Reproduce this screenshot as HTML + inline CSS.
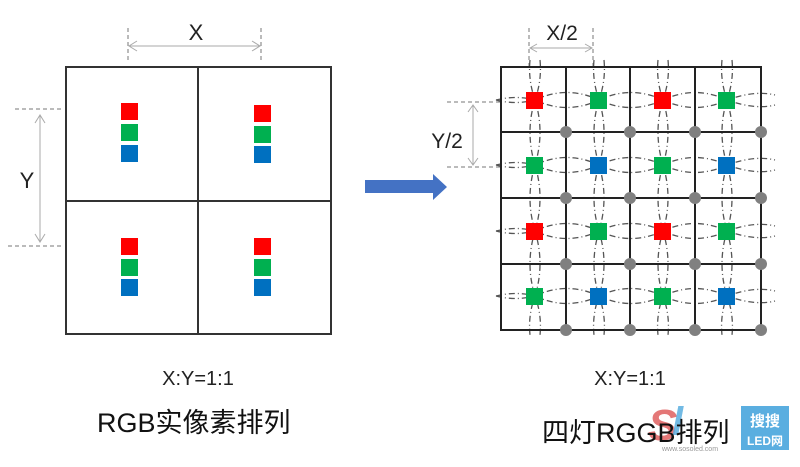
<!DOCTYPE html>
<html><head><meta charset="utf-8"><style>
html,body{margin:0;padding:0;background:#fff;}
svg{display:block;font-family:"Liberation Sans","Noto Sans CJK SC",sans-serif;}
</style></head><body>
<svg width="800" height="467" viewBox="0 0 800 467" xmlns="http://www.w3.org/2000/svg">
<rect x="66" y="67" width="265" height="267" fill="none" stroke="#333" stroke-width="2"/>
<line x1="198" y1="67" x2="198" y2="334" stroke="#333" stroke-width="2"/>
<line x1="66" y1="201" x2="331" y2="201" stroke="#333" stroke-width="2"/>
<g>
<rect x="121" y="103" width="17" height="17" fill="#f00"/>
<rect x="121" y="124" width="17" height="17" fill="#00b050"/>
<rect x="121" y="145" width="17" height="17" fill="#0070c0"/>
<rect x="254" y="105" width="17" height="17" fill="#f00"/>
<rect x="254" y="126" width="17" height="17" fill="#00b050"/>
<rect x="254" y="146" width="17" height="17" fill="#0070c0"/>
<rect x="121" y="238" width="17" height="17" fill="#f00"/>
<rect x="121" y="259" width="17" height="17" fill="#00b050"/>
<rect x="121" y="279" width="17" height="17" fill="#0070c0"/>
<rect x="254" y="238" width="17" height="17" fill="#f00"/>
<rect x="254" y="259" width="17" height="17" fill="#00b050"/>
<rect x="254" y="279" width="17" height="17" fill="#0070c0"/>
</g>
<line x1="128" y1="28" x2="128" y2="63" stroke="#777" stroke-dasharray="4,3"/>
<line x1="261" y1="28" x2="261" y2="63" stroke="#777" stroke-dasharray="4,3"/>
<line x1="129" y1="46" x2="260" y2="46" stroke="#aaa"/>
<polyline points="137,41 129,46 137,51" fill="none" stroke="#aaa"/>
<polyline points="252,41 260,46 252,51" fill="none" stroke="#aaa"/>
<text x="196" y="40" font-size="22" text-anchor="middle" fill="#222">X</text>
<line x1="15" y1="109" x2="63" y2="109" stroke="#777" stroke-dasharray="4,3"/>
<line x1="8" y1="246" x2="63" y2="246" stroke="#777" stroke-dasharray="4,3"/>
<line x1="40" y1="115" x2="40" y2="242" stroke="#aaa"/>
<polyline points="35,123 40,115 45,123" fill="none" stroke="#aaa"/>
<polyline points="35,234 40,242 45,234" fill="none" stroke="#aaa"/>
<text x="27" y="188" font-size="22" text-anchor="middle" fill="#222">Y</text>
<text x="198" y="385" font-size="20" text-anchor="middle" fill="#222">X:Y=1:1</text>
<text x="97" y="432" font-size="27" fill="#111">RGB实像素排列</text>
<polygon points="365,180 433,180 433,174 447,187 433,200 433,193 365,193" fill="#4472c4"/>
<line x1="447" y1="102" x2="500" y2="102" stroke="#777" stroke-dasharray="4,3"/>
<line x1="447" y1="167" x2="500" y2="167" stroke="#777" stroke-dasharray="4,3"/>
<line x1="473" y1="105" x2="473" y2="165" stroke="#aaa"/>
<polyline points="468,112 473,105 478,112" fill="none" stroke="#aaa"/>
<polyline points="468,158 473,165 478,158" fill="none" stroke="#aaa"/>
<text x="447" y="148" font-size="21" text-anchor="middle" fill="#222">Y/2</text>
<line x1="529" y1="28" x2="529" y2="66" stroke="#777" stroke-dasharray="4,3"/>
<line x1="593" y1="28" x2="593" y2="66" stroke="#777" stroke-dasharray="4,3"/>
<line x1="530" y1="48" x2="592" y2="48" stroke="#aaa"/>
<polyline points="537,44 530,48 537,52" fill="none" stroke="#aaa"/>
<polyline points="585,44 592,48 585,52" fill="none" stroke="#aaa"/>
<text x="562" y="40" font-size="21" text-anchor="middle" fill="#222">X/2</text>
<g fill="none" stroke="#555" stroke-width="1.3" stroke-dasharray="6,3,1,3">
<path d="M496,100 Q516,95 535,100 Q567,85 599,100 Q631,85 663,100 Q695,85 727,100 Q755,90 775,95"/>
<path d="M496,100 Q516,105 535,100 Q567,115 599,100 Q631,115 663,100 Q695,115 727,100 Q755,110 775,105"/>
<path d="M496,165 Q516,160 535,165 Q567,150 599,165 Q631,150 663,165 Q695,150 727,165 Q755,155 775,160"/>
<path d="M496,165 Q516,170 535,165 Q567,180 599,165 Q631,180 663,165 Q695,180 727,165 Q755,175 775,170"/>
<path d="M496,231 Q516,226 535,231 Q567,216 599,231 Q631,216 663,231 Q695,216 727,231 Q755,221 775,226"/>
<path d="M496,231 Q516,236 535,231 Q567,246 599,231 Q631,246 663,231 Q695,246 727,231 Q755,241 775,236"/>
<path d="M496,296 Q516,291 535,296 Q567,281 599,296 Q631,281 663,296 Q695,281 727,296 Q755,286 775,291"/>
<path d="M496,296 Q516,301 535,296 Q567,311 599,296 Q631,311 663,296 Q695,311 727,296 Q755,306 775,301"/>
<path d="M530,60 Q528,80 535,100 Q525,132 535,165 Q525,198 535,231 Q525,264 535,296 Q528,315 530,335"/>
<path d="M540,60 Q542,80 535,100 Q545,132 535,165 Q545,198 535,231 Q545,264 535,296 Q542,315 540,335"/>
<path d="M594,60 Q592,80 599,100 Q589,132 599,165 Q589,198 599,231 Q589,264 599,296 Q592,315 594,335"/>
<path d="M604,60 Q606,80 599,100 Q609,132 599,165 Q609,198 599,231 Q609,264 599,296 Q606,315 604,335"/>
<path d="M658,60 Q656,80 663,100 Q653,132 663,165 Q653,198 663,231 Q653,264 663,296 Q656,315 658,335"/>
<path d="M668,60 Q670,80 663,100 Q673,132 663,165 Q673,198 663,231 Q673,264 663,296 Q670,315 668,335"/>
<path d="M722,60 Q720,80 727,100 Q717,132 727,165 Q717,198 727,231 Q717,264 727,296 Q720,315 722,335"/>
<path d="M732,60 Q734,80 727,100 Q737,132 727,165 Q737,198 727,231 Q737,264 727,296 Q734,315 732,335"/>
</g>
<g stroke="#222" stroke-width="2" fill="none">
<rect x="501" y="67" width="260" height="263"/>
<line x1="566" y1="67" x2="566" y2="330"/>
<line x1="630" y1="67" x2="630" y2="330"/>
<line x1="695" y1="67" x2="695" y2="330"/>
<line x1="501" y1="132" x2="761" y2="132"/>
<line x1="501" y1="198" x2="761" y2="198"/>
<line x1="501" y1="264" x2="761" y2="264"/>
</g>
<g>
<rect x="526" y="92" width="17" height="17" fill="#f00"/>
<rect x="590" y="92" width="17" height="17" fill="#00b050"/>
<rect x="654" y="92" width="17" height="17" fill="#f00"/>
<rect x="718" y="92" width="17" height="17" fill="#00b050"/>
<rect x="526" y="157" width="17" height="17" fill="#00b050"/>
<rect x="590" y="157" width="17" height="17" fill="#0070c0"/>
<rect x="654" y="157" width="17" height="17" fill="#00b050"/>
<rect x="718" y="157" width="17" height="17" fill="#0070c0"/>
<rect x="526" y="223" width="17" height="17" fill="#f00"/>
<rect x="590" y="223" width="17" height="17" fill="#00b050"/>
<rect x="654" y="223" width="17" height="17" fill="#f00"/>
<rect x="718" y="223" width="17" height="17" fill="#00b050"/>
<rect x="526" y="288" width="17" height="17" fill="#00b050"/>
<rect x="590" y="288" width="17" height="17" fill="#0070c0"/>
<rect x="654" y="288" width="17" height="17" fill="#00b050"/>
<rect x="718" y="288" width="17" height="17" fill="#0070c0"/>
</g>
<g fill="#808080">
<circle cx="566" cy="132" r="6"/><circle cx="630" cy="132" r="6"/><circle cx="695" cy="132" r="6"/><circle cx="761" cy="132" r="6"/>
<circle cx="566" cy="198" r="6"/><circle cx="630" cy="198" r="6"/><circle cx="695" cy="198" r="6"/><circle cx="761" cy="198" r="6"/>
<circle cx="566" cy="264" r="6"/><circle cx="630" cy="264" r="6"/><circle cx="695" cy="264" r="6"/><circle cx="761" cy="264" r="6"/>
<circle cx="566" cy="330" r="6"/><circle cx="630" cy="330" r="6"/><circle cx="695" cy="330" r="6"/><circle cx="761" cy="330" r="6"/>
</g>
<text x="630" y="385" font-size="20" text-anchor="middle" fill="#222">X:Y=1:1</text>
<text x="648" y="440" font-size="44" font-style="italic" font-weight="bold" fill="#e06060" opacity="0.85">S</text>
<text x="672" y="435" font-size="40" font-style="italic" font-weight="bold" fill="#5aaee0" opacity="0.85">l</text>
<text x="542" y="442" font-size="27" fill="#111">四灯RGGB排列</text>
<rect x="741" y="406" width="48" height="44" fill="#5aaee0"/>
<text x="765" y="426" font-size="15" font-weight="bold" text-anchor="middle" fill="#fff">搜搜</text>
<text x="765" y="445" font-size="12" font-weight="bold" text-anchor="middle" fill="#fff">LED网</text>
<text x="662" y="451" font-size="7" fill="#999">www.sosoled.com</text>
</svg>
</body></html>
